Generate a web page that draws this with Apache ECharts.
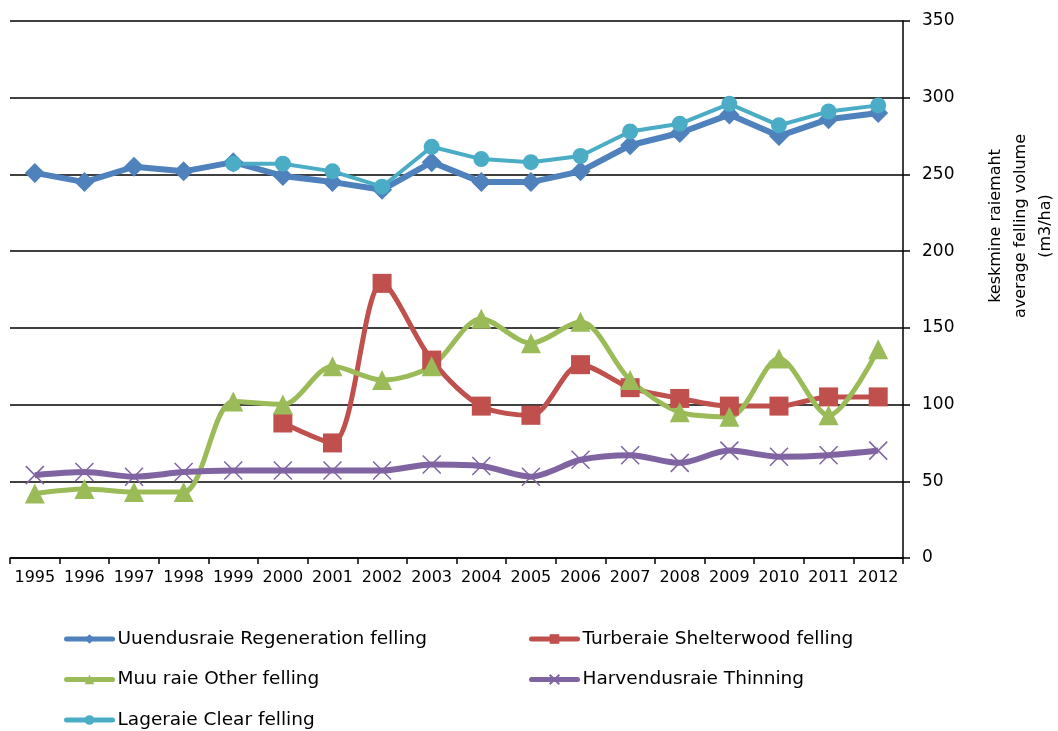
<!DOCTYPE html>
<html>
<head>
<meta charset="utf-8">
<title>Felling volume</title>
<script src="https://cdn.jsdelivr.net/npm/echarts@6/dist/echarts.min.js"></script>
<style>
  html, body { margin: 0; padding: 0; background: #fff; }
  #chart { width: 1058px; height: 731px; }
</style>
</head>
<body>
<div id="chart"></div>
<script>
// aastad / years
const years = ['1995', '1996', '1997', '1998', '1999', '2000', '2001', '2002', '2003',
  '2004', '2005', '2006', '2007', '2008', '2009', '2010', '2011', '2012'];

// keskmine raiemaht m3/ha
const regeneration = [251, 245, 255, 252, 258, 249, 245, 240, 258, 245, 245, 252, 269, 277, 289, 275, 286, 290];
const shelterwood = [null, null, null, null, null, 88, 75, 179, 129, 99, 93, 126, 111, 104, 99, 99, 105, 105];
const other = [42, 45, 43, 43, 102, 100, 125, 116, 125, 156, 140, 154, 116, 95, 92, 130, 93, 136];
const thinning = [54, 56, 53, 56, 57, 57, 57, 57, 61, 60, 53, 64, 67, 62, 70, 66, 67, 70];
const clear = [null, null, null, null, 257, 257, 252, 242, 268, 260, 258, 262, 278, 283, 296, 282, 291, 295];

const yTicks = { min: 0, max: 350, step: 50 };

const FONT = 'DejaVu Sans';
const crossPath = 'path://M0,0L10,10M10,0L0,10';

const chart = echarts.init(document.getElementById('chart'));

// legendi ühine stiil
const legendBase = {
  orient: 'vertical',
  top: 629,
  padding: 0,
  itemWidth: 46,
  itemHeight: 12,
  itemGap: 20.5,
  lineStyle: { width: 5, cap: 'round' },
  textStyle: { fontFamily: FONT, fontSize: 18.5, color: '#000', lineHeight: 20 }
};

chart.setOption({
  animation: false,
  backgroundColor: '#fff',
  grid: { left: 10, right: 155, top: 21, bottom: 173 },
  legend: [
    Object.assign({}, legendBase, {
      left: 64,
      data: ['Uuendusraie Regeneration felling', 'Muu raie Other felling', 'Lageraie Clear felling']
    }),
    Object.assign({}, legendBase, {
      left: 529,
      data: ['Turberaie Shelterwood felling', 'Harvendusraie Thinning']
    })
  ],
  xAxis: {
    type: 'category',
    data: years,
    boundaryGap: true,
    axisLine: { lineStyle: { color: '#000', width: 1.5 } },
    axisTick: { show: true, length: 6, lineStyle: { color: '#000', width: 1.5 } },
    axisLabel: { color: '#000', fontFamily: FONT, fontSize: 16, margin: 12, interval: 0 }
  },
  yAxis: {
    type: 'value',
    position: 'right',
    min: yTicks.min,
    max: yTicks.max,
    interval: yTicks.step,
    axisLine: { show: true, lineStyle: { color: '#000', width: 1.5 } },
    axisTick: { show: true, length: 7, lineStyle: { color: '#000', width: 1.5 } },
    axisLabel: { color: '#000', fontFamily: FONT, fontSize: 17, margin: 19 },
    splitLine: { show: true, lineStyle: { color: '#000', width: 1.5 } }
  },
  graphic: [
    {
      type: 'text',
      x: 1021,
      y: 226,
      rotation: Math.PI / 2,
      style: {
        text: 'keskmine raiemaht\naverage felling volume\n(m3/ha)',
        fontFamily: FONT,
        fontSize: 16,
        lineHeight: 25,
        fill: '#000',
        align: 'center',
        verticalAlign: 'middle'
      }
    }
  ],
  series: [
    {
      name: 'Uuendusraie Regeneration felling',
      type: 'line',
      data: regeneration,
      symbol: 'diamond',
      symbolSize: 20,
      lineStyle: { color: '#4F81BD', width: 6 },
      itemStyle: { color: '#4F81BD' }
    },
    {
      name: 'Turberaie Shelterwood felling',
      type: 'line',
      data: shelterwood,
      smooth: 0.3,
      symbol: 'rect',
      symbolSize: 19,
      lineStyle: { color: '#C0504D', width: 5 },
      itemStyle: { color: '#C0504D' }
    },
    {
      name: 'Muu raie Other felling',
      type: 'line',
      data: other,
      smooth: 0.3,
      symbol: 'triangle',
      symbolSize: 20,
      lineStyle: { color: '#9BBB59', width: 5 },
      itemStyle: { color: '#9BBB59' }
    },
    {
      name: 'Harvendusraie Thinning',
      type: 'line',
      data: thinning,
      smooth: 0.3,
      symbol: crossPath,
      symbolSize: 18,
      lineStyle: { color: '#8064A2', width: 6 },
      itemStyle: { color: '#8064A2', borderColor: '#8064A2', borderWidth: 1.5 }
    },
    {
      name: 'Lageraie Clear felling',
      type: 'line',
      data: clear,
      symbol: 'circle',
      symbolSize: 16,
      lineStyle: { color: '#4BACC6', width: 4 },
      itemStyle: { color: '#4BACC6' }
    }
  ]
});

window.addEventListener('resize', () => chart.resize());
</script>
</body>
</html>
